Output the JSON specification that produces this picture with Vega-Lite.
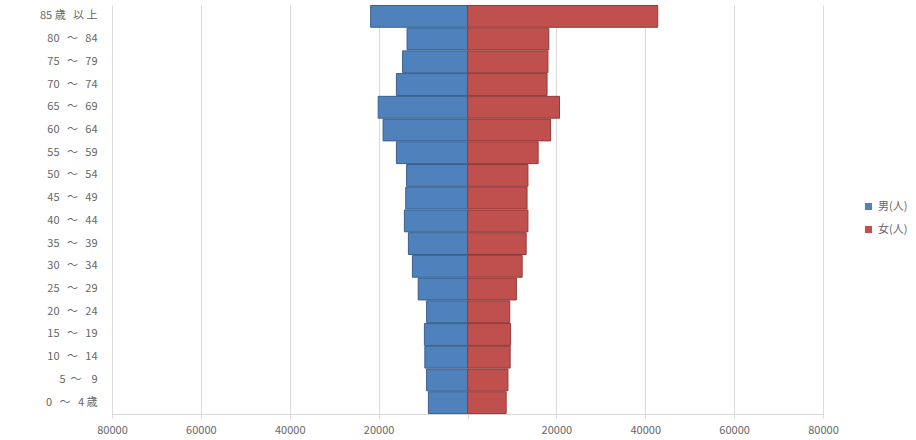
{
  "$schema": "https://vega.github.io/schema/vega-lite/v6.json",
  "autosize": "none",
  "width": 711,
  "height": 409,
  "padding": {"left": 112, "top": 5, "right": 93, "bottom": 26},
  "background": "white",
  "config": {
    "font": "Noto Sans CJK JP",
    "view": {"stroke": null},
    "axis": {"labelColor": "#666666", "labelFontSize": 11, "titleColor": "#666666"}
  },
  "data": {
    "values": [
      {"age": "85\u00a0歳\u00a0\u00a0\u00a0以\u00a0上", "sex": "男(人)", "pop": -21800},
      {"age": "80\u00a0\u00a0\u00a0～\u00a0\u00a0\u00a084", "sex": "男(人)", "pop": -13600},
      {"age": "75\u00a0\u00a0\u00a0～\u00a0\u00a0\u00a079", "sex": "男(人)", "pop": -14600},
      {"age": "70\u00a0\u00a0\u00a0～\u00a0\u00a0\u00a074", "sex": "男(人)", "pop": -16000},
      {"age": "65\u00a0\u00a0\u00a0～\u00a0\u00a0\u00a069", "sex": "男(人)", "pop": -20100},
      {"age": "60\u00a0\u00a0\u00a0～\u00a0\u00a0\u00a064", "sex": "男(人)", "pop": -19000},
      {"age": "55\u00a0\u00a0\u00a0～\u00a0\u00a0\u00a059", "sex": "男(人)", "pop": -16000},
      {"age": "50\u00a0\u00a0\u00a0～\u00a0\u00a0\u00a054", "sex": "男(人)", "pop": -13700},
      {"age": "45\u00a0\u00a0\u00a0～\u00a0\u00a0\u00a049", "sex": "男(人)", "pop": -13900},
      {"age": "40\u00a0\u00a0\u00a0～\u00a0\u00a0\u00a044", "sex": "男(人)", "pop": -14200},
      {"age": "35\u00a0\u00a0\u00a0～\u00a0\u00a0\u00a039", "sex": "男(人)", "pop": -13300},
      {"age": "30\u00a0\u00a0\u00a0～\u00a0\u00a0\u00a034", "sex": "男(人)", "pop": -12400},
      {"age": "25\u00a0\u00a0\u00a0～\u00a0\u00a0\u00a029", "sex": "男(人)", "pop": -11100},
      {"age": "20\u00a0\u00a0\u00a0～\u00a0\u00a0\u00a024", "sex": "男(人)", "pop": -9200},
      {"age": "15\u00a0\u00a0\u00a0～\u00a0\u00a0\u00a019", "sex": "男(人)", "pop": -9700},
      {"age": "10\u00a0\u00a0\u00a0～\u00a0\u00a0\u00a014", "sex": "男(人)", "pop": -9600},
      {"age": "5\u00a0\u00a0～\u00a0\u00a0\u00a0\u00a09", "sex": "男(人)", "pop": -9200},
      {"age": "0\u00a0\u00a0\u00a0～\u00a0\u00a0\u00a04\u00a0歳", "sex": "男(人)", "pop": -8800},
      {"age": "85\u00a0歳\u00a0\u00a0\u00a0以\u00a0上", "sex": "女(人)", "pop": 42800},
      {"age": "80\u00a0\u00a0\u00a0～\u00a0\u00a0\u00a084", "sex": "女(人)", "pop": 18300},
      {"age": "75\u00a0\u00a0\u00a0～\u00a0\u00a0\u00a079", "sex": "女(人)", "pop": 18100},
      {"age": "70\u00a0\u00a0\u00a0～\u00a0\u00a0\u00a074", "sex": "女(人)", "pop": 17900},
      {"age": "65\u00a0\u00a0\u00a0～\u00a0\u00a0\u00a069", "sex": "女(人)", "pop": 20700},
      {"age": "60\u00a0\u00a0\u00a0～\u00a0\u00a0\u00a064", "sex": "女(人)", "pop": 18700},
      {"age": "55\u00a0\u00a0\u00a0～\u00a0\u00a0\u00a059", "sex": "女(人)", "pop": 15900},
      {"age": "50\u00a0\u00a0\u00a0～\u00a0\u00a0\u00a054", "sex": "女(人)", "pop": 13600},
      {"age": "45\u00a0\u00a0\u00a0～\u00a0\u00a0\u00a049", "sex": "女(人)", "pop": 13400},
      {"age": "40\u00a0\u00a0\u00a0～\u00a0\u00a0\u00a044", "sex": "女(人)", "pop": 13600},
      {"age": "35\u00a0\u00a0\u00a0～\u00a0\u00a0\u00a039", "sex": "女(人)", "pop": 13200},
      {"age": "30\u00a0\u00a0\u00a0～\u00a0\u00a0\u00a034", "sex": "女(人)", "pop": 12300},
      {"age": "25\u00a0\u00a0\u00a0～\u00a0\u00a0\u00a029", "sex": "女(人)", "pop": 11000},
      {"age": "20\u00a0\u00a0\u00a0～\u00a0\u00a0\u00a024", "sex": "女(人)", "pop": 9500},
      {"age": "15\u00a0\u00a0\u00a0～\u00a0\u00a0\u00a019", "sex": "女(人)", "pop": 9700},
      {"age": "10\u00a0\u00a0\u00a0～\u00a0\u00a0\u00a014", "sex": "女(人)", "pop": 9600},
      {"age": "5\u00a0\u00a0～\u00a0\u00a0\u00a0\u00a09", "sex": "女(人)", "pop": 9100},
      {"age": "0\u00a0\u00a0\u00a0～\u00a0\u00a0\u00a04\u00a0歳", "sex": "女(人)", "pop": 8700}
    ]
  },
  "mark": {"type": "bar", "strokeWidth": 1},
  "encoding": {
    "y": {
      "field": "age",
      "type": "nominal",
      "sort": null,
      "scale": {"paddingInner": 0.04, "paddingOuter": 0.02},
      "axis": {"title": null, "domain": false, "ticks": false, "labelPadding": 15, "labelAlign": "right"}
    },
    "x": {
      "field": "pop",
      "type": "quantitative",
      "stack": null,
      "scale": {"domain": [-80000, 80000], "nice": false},
      "axis": {
        "title": null,
        "values": [-80000, -60000, -40000, -20000, 0, 20000, 40000, 60000, 80000],
        "labelExpr": "datum.value == 0 ? '' : format(abs(datum.value), 'd')",
        "grid": true,
        "gridColor": "#d9d9d9",
        "domainColor": "#d9d9d9",
        "tickColor": "#d9d9d9",
        "tickSize": 4,
        "labelPadding": 6,
        "labelFlush": false
      }
    },
    "fill": {
      "field": "sex",
      "type": "nominal",
      "sort": ["男(人)", "女(人)"],
      "scale": {"domain": ["男(人)", "女(人)"], "range": ["#4f81bd", "#c0504d"]},
      "legend": {
        "title": null,
        "orient": "none",
        "legendX": 751,
        "legendY": 196,
        "symbolType": "square",
        "symbolSize": 50,
        "symbolStrokeWidth": 0,
        "labelFontSize": 11,
        "labelColor": "#666666",
        "rowPadding": 11,
        "labelOffset": 4
      }
    },
    "stroke": {
      "field": "sex",
      "type": "nominal",
      "scale": {"domain": ["男(人)", "女(人)"], "range": ["#3a5f8c", "#8e3b39"]},
      "legend": null
    }
  }
}
